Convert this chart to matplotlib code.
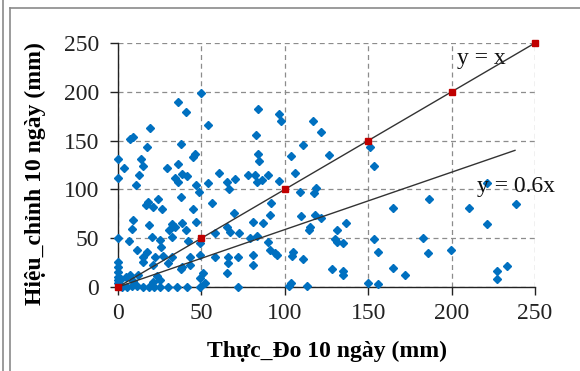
import matplotlib
matplotlib.use("Agg")
import matplotlib.pyplot as plt
from matplotlib.lines import Line2D

plt.rcParams['font.family'] = ['Liberation Serif', 'DejaVu Serif']

# ---- data ----
pts = [
    (49.8,199),(36.2,190),(40.8,179.6),(53.8,166),(19.2,162.6),(8.8,154),(7.2,151.3),(17.6,143.7),
    (37.6,146.5),(46.2,136),(45.1,133.5),(84.1,182),(82.7,155.7),(84.1,136),(0,130.8),(13.6,130.8),
    (3.6,121.6),(15.2,124),(29.6,121.6),(36.2,126),(12.8,114.8),(38.2,115.8),(41.2,113.7),(34.2,111.4),
    (36.2,107.9),(0,111.4),(10.8,104.5),(46.8,104.5),(48.8,97.7),(54.1,106.9),(60.7,117.1),(65.5,107.9),
    (70.1,110.3),(66.7,100.1),(78.1,114.8),(82.1,114.8),(83.2,107.9),(24.2,89.9),(18.2,87.4),(16.8,84),
    (21.2,82.3),(26.2,79.6),(37.6,91.9),(56.2,85.8),(44.8,79.6),(69.7,76.1),(9.2,68.6),(8.2,59.1),
    (18.8,63.5),(32.2,64.5),(38.2,65.9),(46.8,66.9),(30.8,58.4),(40.8,58.4),(34.2,61.2),(65.2,61.2),
    (67.1,56.7),(72.7,55.6),(80.8,66.9),(0,49.9),(6.8,47.4),(20.2,50.9),(25.2,48.2),(32.2,50.9),
    (42.1,47.4),(25.6,41.3),(58.2,55.6),(49.2,45.4),(11.2,37.9),(17.2,36.2),(15.2,31),(22.2,30.4),
    (27.2,31.8),(32.2,30.4),(43.2,30.4),(49.2,32.8),(15.2,25.9),(21.2,22.5),(30.2,24.3),(38.2,20.8),
    (43.2,22.5),(58.2,31),(66.1,30.4),(66.1,24.3),(72.1,30.4),(80.8,32.8),(81.2,22.5),(65.5,14.7),
    (51.1,14.7),(49.2,8.9),(52.2,4.4),(23.2,11.3),(25.2,7.2),(20.8,5.4),
    (0,25.9),(0,20.8),(0,15.7),(0,10.6),(0,7.2),(0,4.4),
    (2.2,0.5),(5.2,0.5),(8.2,1),(11.2,1),(15.2,0.5),(18.8,0.5),(21.6,0.5),(25.2,0.5),(30.2,0.5),
    (35.2,0.5),(41.2,0.5),(49.2,0.5),(72.1,0.5),
    (2,8),(5,10),(7,12),(12,12),(9,6),(37.6,18),
    (96.7,177.3),(97.5,170.4),(116.7,170.4),(121.5,158.5),(111.1,145.5),(103.5,134.2),(126.7,134.9),
    (151.1,143.7),
    (84.7,129.4),(153.5,124),(86.2,109.6),(90.1,114.8),(96.7,108.9),(106.1,116.5),(109.1,97.7),
    (117.5,96.6),(118.7,101.1),(91.5,86.4),(91.1,73.8),(87.1,65.3),(109.5,72.7),(118.1,73.8),
    (121.5,70.4),(115.1,61.2),(114.7,58.4),(136.7,65.3),(131.5,58.4),(83.5,52.3),(79.1,49.9),
    (90.1,46.4),(130.1,48.9),(131.5,46.4),(135.1,45.4),(153.5,48.9),(156.1,36.2),(91.1,37.9),
    (94.1,35.1),(95.1,32.8),(104.7,36.2),(104.1,31.8),(111.1,28.4),(128.1,18.1),(134.7,16.7),
    (134.7,12.3),(164.7,19.2),(103.5,3.8),(102.7,1),(113.1,1),(150.1,4.4),(156.1,3.1),(165,80.6),
    (221,106.2),(186.6,89.9),(210.6,80.6),(238.6,85),(221.4,64.2),(183,50.5),(186,35.1),(199.6,37.9),
    (172,12.3),(233,21.5),(227,16.7),(227.4,7.9),
]
obs_x = [p[0] for p in pts]
obs_y = [p[1] for p in pts]

ref_x = [0, 50, 100, 150, 200, 250]
ref_y = [0, 50, 100, 150, 200, 250]
fit_x = [0, 238]
fit_y = [0, 140]
ticks = [0, 50, 100, 150, 200, 250]

# ---- figure ----
W, H = 580, 371
fig = plt.figure(figsize=(W/100, H/100), dpi=100)
ax = fig.add_axes([118/W, 1-287/H, (535-118)/W, (287-43)/H])

ax.set_xlim(0, 250)
ax.set_ylim(0, 250)
ax.set_xticks(ticks)
ax.set_yticks(ticks)
ax.grid(True, color='#8c8c8c', linestyle=(0, (4, 3)), linewidth=0.9)
ax.set_axisbelow(True)
for s in ['top', 'right']:
    ax.spines[s].set_visible(False)
for s in ['left', 'bottom']:
    ax.spines[s].set_color('#222222')
    ax.spines[s].set_linewidth(1.0)
ax.tick_params(direction='out', length=5.5, width=1.0, labelsize=17, colors='#222222')
ax.tick_params(axis='y', pad=8)
ax.tick_params(axis='x', pad=6)

ax.plot(obs_x, obs_y, linestyle='none', marker='D', markersize=3.7, color='#0070C0', zorder=3, clip_on=False)
ax.plot(ref_x, ref_y, color='#333333', linewidth=1.0, zorder=4, clip_on=False)
ax.plot(fit_x, fit_y, color='#333333', linewidth=1.0, zorder=4, clip_on=False)
ax.plot(ref_x, ref_y, linestyle='none', marker='s', markersize=5, color='#C00000', zorder=5, clip_on=False)

ax.text(203, 234.6, 'y = x', fontsize=17, color='#111111', va='center', ha='left')
ax.text(215, 102.8, 'y = 0.6x', fontsize=17, color='#111111', va='center', ha='left')

fig.text(327/W, 1-351.7/H, 'Thực_Đo 10 ngày (mm)', fontsize=17, fontweight='bold',
         ha='center', va='center')
fig.text(35/W, 1-174/H, 'Hiệu_chỉnh 10 ngày (mm)', fontsize=17, fontweight='bold',
         ha='center', va='center', rotation=90)

# outer frame
gray = '#8a8a8a'
fig.add_artist(Line2D([3/W, 3/W], [0, 1], color=gray, linewidth=1.2, transform=fig.transFigure))
fig.add_artist(Line2D([10/W, 10/W], [0, 1-8/H], color=gray, linewidth=1.2, transform=fig.transFigure))
fig.add_artist(Line2D([10/W, 1], [1-8/H, 1-8/H], color=gray, linewidth=1.2, transform=fig.transFigure))

fig.savefig('out.png', dpi=100)
